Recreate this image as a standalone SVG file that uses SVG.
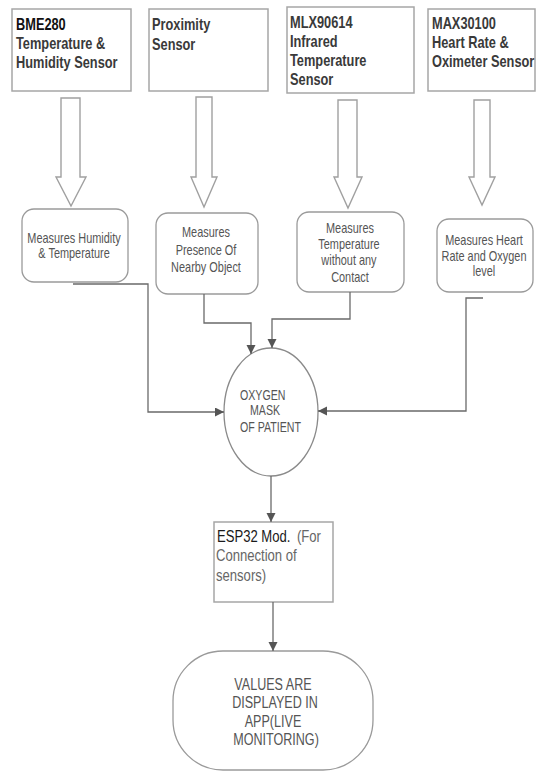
<svg xmlns="http://www.w3.org/2000/svg" width="536" height="772" viewBox="0 0 536 772">
<defs>
<style>
.box{fill:#fff;stroke:#a6a6a6;stroke-width:1.5}
.rbox{fill:#fff;stroke:#9a9a9a;stroke-width:1.3}
.blk{fill:#fff;stroke:#a0a0a0;stroke-width:1.4}
.hd{font-family:"Liberation Sans",Arial,sans-serif;font-size:16px;font-weight:bold;fill:#3a3a3a}
.hb{font-family:"Liberation Sans",Arial,sans-serif;font-size:16px;font-weight:bold;fill:#111}
.tx{font-family:"Liberation Sans",Arial,sans-serif;font-size:14px;fill:#555;text-anchor:middle}
.et{font-family:"Liberation Sans",Arial,sans-serif;font-size:14px;fill:#555}
.es{font-family:"Liberation Sans",Arial,sans-serif;font-size:17px;fill:#666}
.eb{font-family:"Liberation Sans",Arial,sans-serif;font-size:17px;fill:#1a1a1a}
.fn{font-family:"Liberation Sans",Arial,sans-serif;font-size:17px;fill:#555;text-anchor:middle}
.ln{fill:none;stroke:#6a6a6a;stroke-width:1.3}
</style>
<marker id="ah" markerUnits="userSpaceOnUse" markerWidth="10" markerHeight="10" refX="9" refY="4.5" orient="auto">
<path d="M0,0 L9,4.5 L0,9 z" fill="#555"/>
</marker>
</defs>
<rect width="536" height="772" fill="#fff"/>

<g id="bme280">
<rect class="box" x="12" y="9" width="119" height="82"/>
<g transform="scale(0.8,1)">
<text class="hb" x="20" y="30">BME280</text>
<text class="hd" x="20" y="49">Temperature &amp;</text>
<text class="hd" x="20" y="68">Humidity Sensor</text>
</g>
</g>
<g id="proximity">
<rect class="box" x="149" y="9" width="119" height="82"/>
<g transform="scale(0.8,1)">
<text class="hd" x="190" y="30">Proximity</text>
<text class="hd" x="190" y="50">Sensor</text>
</g>
</g>
<g id="mlx90614">
<rect class="box" x="287" y="7" width="127" height="86"/>
<g transform="scale(0.8,1)">
<text class="hd" x="362.5" y="28">MLX90614</text>
<text class="hd" x="362.5" y="47">Infrared</text>
<text class="hd" x="362.5" y="66">Temperature</text>
<text class="hd" x="362.5" y="85">Sensor</text>
</g>
</g>
<g id="max30100">
<rect class="box" x="428" y="9" width="107" height="82"/>
<g transform="scale(0.8,1)">
<text class="hd" x="540" y="29">MAX30100</text>
<text class="hd" x="540" y="48">Heart Rate &amp;</text>
<text class="hd" x="540" y="67">Oximeter Sensor</text>
</g>
</g>

<g id="block-arrows">
<polygon class="blk" points="61,98 80,98 80,177 86,177 71,206 56,177 61,177"/>
<polygon class="blk" points="196,97 212,97 212,177 217,177 204,207 191,177 196,177"/>
<polygon class="blk" points="338,100 357,100 357,177 362,177 348,208 334,177 338,177"/>
<polygon class="blk" points="474,100 490,100 490,177 495,177 482,205 469,177 474,177"/>
</g>

<g id="measure-humidity">
<rect class="rbox" x="22" y="209" width="106" height="73" rx="12"/>
<g transform="scale(0.78,1)">
<text class="tx" x="94.9" y="243">Measures Humidity</text>
<text class="tx" x="94.9" y="258">&amp; Temperature</text>
</g>
</g>
<g id="measure-presence">
<rect class="rbox" x="156" y="213" width="102" height="81" rx="12"/>
<g transform="scale(0.78,1)">
<text class="tx" x="264.1" y="237">Measures</text>
<text class="tx" x="264.1" y="255">Presence Of</text>
<text class="tx" x="264.1" y="272">Nearby Object</text>
</g>
</g>
<g id="measure-temperature">
<rect class="rbox" x="297" y="212" width="107" height="80" rx="12"/>
<g transform="scale(0.78,1)">
<text class="tx" x="448.7" y="233">Measures</text>
<text class="tx" x="447.4" y="249">Temperature</text>
<text class="tx" x="447.4" y="265">without any</text>
<text class="tx" x="448.7" y="282">Contact</text>
</g>
</g>
<g id="measure-heart">
<rect class="rbox" x="437" y="219" width="96" height="73" rx="12"/>
<g transform="scale(0.78,1)">
<text class="tx" x="620.5" y="245">Measures Heart</text>
<text class="tx" x="620.5" y="261">Rate and Oxygen</text>
<text class="tx" x="620.5" y="276">level</text>
</g>
</g>

<g id="oxygen-mask">
<ellipse cx="271" cy="412" rx="47" ry="64" fill="#fff" stroke="#8a8a8a" stroke-width="1.3"/>
<g transform="scale(0.76,1)">
<text class="et" x="315.8" y="400">OXYGEN</text>
<text class="et" x="328.9" y="415">MASK</text>
<text class="et" x="315.8" y="432">OF PATIENT</text>
</g>
</g>

<g id="esp32">
<rect class="box" x="214" y="522" width="119" height="80" stroke="#999"/>
<g transform="scale(0.77,1)">
<text class="eb" x="281.8" y="542">ESP32 Mod.</text>
<text class="es" x="385.7" y="542">(For</text>
<text class="es" x="280.5" y="561">Connection of</text>
<text class="es" x="280.5" y="581">sensors)</text>
</g>
</g>

<g id="app-display">
<rect class="rbox" x="173" y="651" width="200" height="119" rx="50" stroke="#999"/>
<g transform="scale(0.74,1)">
<text class="fn" x="368.9" y="690">VALUES ARE</text>
<text class="fn" x="371.6" y="708">DISPLAYED IN</text>
<text class="fn" x="368.9" y="727">APP(LIVE</text>
<text class="fn" x="373" y="745">MONITORING)</text>
</g>
</g>

<g id="connectors">
<polyline class="ln" points="73,284 148,284 148,412 224,412" marker-end="url(#ah)"/>
<polyline class="ln" points="204,294 204,323 251,323 251,354" marker-end="url(#ah)"/>
<polyline class="ln" points="350,292 350,319 272,319 272,348" marker-end="url(#ah)"/>
<polyline class="ln" points="483,298 466,298 466,411 318,411" marker-end="url(#ah)"/>
<line class="ln" x1="271" y1="476" x2="271" y2="522" marker-end="url(#ah)"/>
<line class="ln" x1="273" y1="602" x2="273" y2="651" marker-end="url(#ah)"/>
</g>
</svg>
